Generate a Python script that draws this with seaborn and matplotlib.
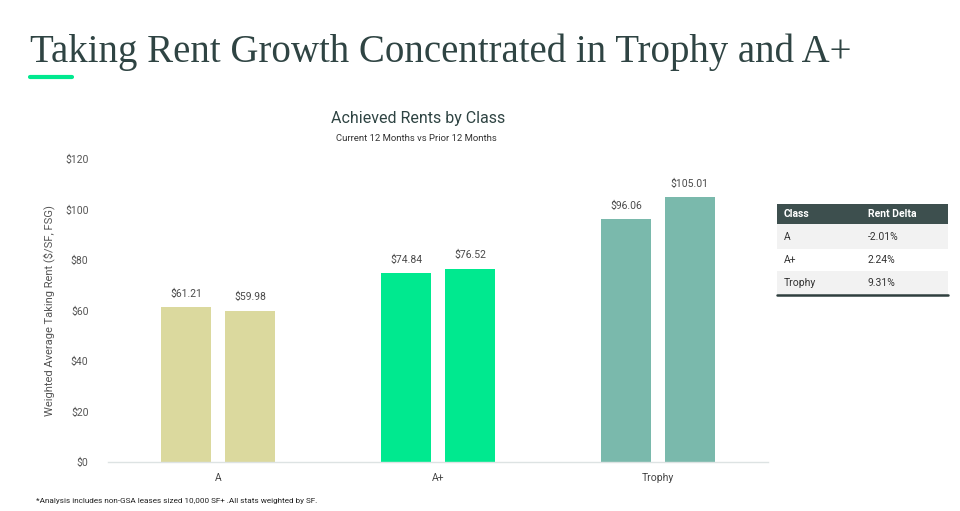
"""
Achieved rents by class: prior vs current 12 months, with rent-delta table.
"""
import pandas as pd
import matplotlib
matplotlib.use('Agg')
import matplotlib.pyplot as plt
from matplotlib.patches import Rectangle
from matplotlib.lines import Line2D
import seaborn as sns

classes = ['A', 'A+', 'Trophy']
prior_rent = [61.21, 74.84, 96.06]
current_rent = [59.98, 76.52, 105.01]
periods = ['Prior 12 Months', 'Current 12 Months']
rent_delta = ['-2.01%', '2.24%', '9.31%']
y_ticks = [0, 20, 40, 60, 80, 100, 120]

class_colors = ['#DBD99E', '#00E98F', '#7AB9AC']
DARK = '#2F4443'
SANS = ['Roboto', 'DejaVu Sans']


def main():
    df = pd.DataFrame({
        'cls': classes * 2,
        'rent': prior_rent + current_rent,
        'period': [periods[0]] * 3 + [periods[1]] * 3,
    })

    sns.set_style('white')
    plt.rcParams['font.family'] = SANS

    fig = plt.figure(figsize=(9.6, 5.11), dpi=100)
    ax = fig.add_axes([0.1125, 0.0959, 0.6875, 0.5929])

    sns.barplot(data=df, x='cls', y='rent', hue='period', hue_order=periods,
                order=classes, width=0.58, gap=0.22, ax=ax, legend=False,
                errorbar=None)

    # recolour bars per class (both periods share the class colour)
    for cont in ax.containers:
        for i, bar in enumerate(cont):
            bar.set_facecolor(class_colors[i])
            bar.set_edgecolor('none')
        ax.bar_label(cont, labels=[f'${v:.2f}' for v in cont.datavalues],
                     padding=6, fontsize=7.5, color='#4A4A4A')

    ax.set_ylim(0, 120)
    ax.set_xlim(-0.5, 2.5)
    ax.set_yticks(y_ticks)
    ax.set_yticklabels([f'${v}' for v in y_ticks], fontsize=7.5, color='#555555')
    ax.tick_params(axis='x', labelsize=7.5, colors='#444444', pad=8, length=0)
    ax.tick_params(axis='y', length=0, pad=14)
    ax.set_xlabel('')
    ax.set_ylabel('Weighted Average Taking Rent ($/SF, FSG)', fontsize=8,
                  color='#555555', labelpad=7)
    for side in ['top', 'right', 'left']:
        ax.spines[side].set_visible(False)
    ax.spines['bottom'].set_color('#DDE3E3')
    ax.spines['bottom'].set_linewidth(1)

    # headline
    fig.text(0.031, 0.878, 'Taking Rent Growth Concentrated in Trophy and A+',
             fontsize=28, color=DARK, family=['Liberation Serif', 'DejaVu Serif'],
             va='baseline', ha='left')
    fig.add_artist(Line2D([0.031, 0.075], [0.849, 0.849], color='#00E98F',
                          linewidth=3, transform=fig.transFigure))

    # chart titles
    fig.text(0.436, 0.769, 'Achieved Rents by Class', fontsize=11.5, color=DARK,
             ha='center', va='center')
    fig.text(0.434, 0.728, 'Current 12 Months vs Prior 12 Months', fontsize=6.8,
             color='#333333', ha='center', va='center')

    # footnote
    fig.text(0.037, 0.014, '*Analysis includes non-GSA leases sized 10,000 SF+ .All stats weighted by SF.',
             fontsize=5.9, color='#222222', ha='left', va='bottom')

    # rent delta table (pixel layout converted to figure coords)
    W, H = 960, 511
    x0, x1 = 777, 948
    col2 = 868
    rows = [(204, 224), (224, 249), (249, 271), (271, 295)]

    def fy(py):
        return 1 - py / H

    top, bot = rows[0]
    fig.add_artist(Rectangle((x0 / W, fy(bot)), (x1 - x0) / W, (bot - top) / H,
                             transform=fig.transFigure, facecolor='#3D4F4E',
                             edgecolor='none'))
    fig.text((x0 + 7) / W, fy((top + bot) / 2), 'Class', fontsize=7.5, color='white',
             fontweight='bold', va='center')
    fig.text(col2 / W, fy((top + bot) / 2), 'Rent Delta', fontsize=7.5, color='white',
             fontweight='bold', va='center')
    for k, (cls, delta) in enumerate(zip(classes, rent_delta)):
        top, bot = rows[k + 1]
        if k % 2 == 0:
            fig.add_artist(Rectangle((x0 / W, fy(bot)), (x1 - x0) / W, (bot - top) / H,
                                     transform=fig.transFigure, facecolor='#F2F2F2',
                                     edgecolor='none'))
        fig.text((x0 + 7) / W, fy((top + bot) / 2), cls, fontsize=7.5,
                 color='#333333', va='center')
        fig.text(col2 / W, fy((top + bot) / 2), delta, fontsize=7.5,
                 color='#333333', va='center')
    fig.add_artist(Line2D([x0 / W, x1 / W], [fy(295), fy(295)], color='#2F3F3E',
                          linewidth=1.8, transform=fig.transFigure))

    fig.savefig('out.png', dpi=100, facecolor='white')
    plt.close(fig)


if __name__ == '__main__':
    main()
